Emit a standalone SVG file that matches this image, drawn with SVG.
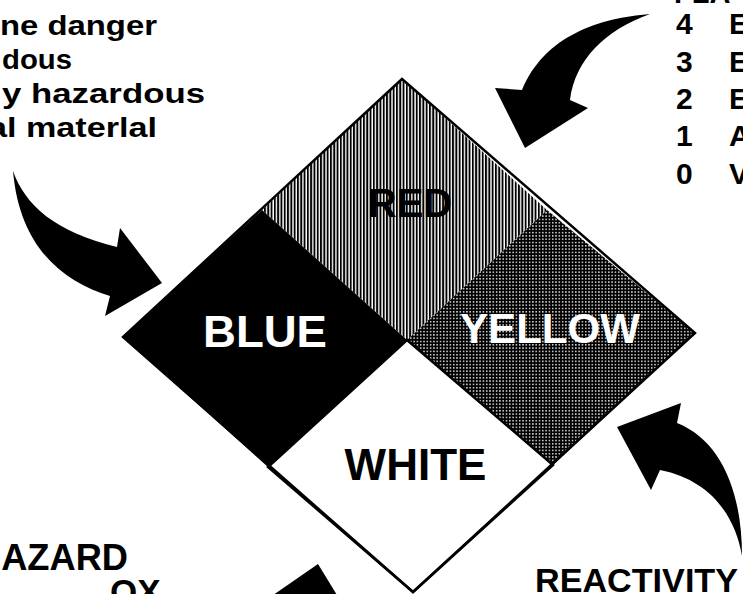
<svg xmlns="http://www.w3.org/2000/svg" width="743" height="594" viewBox="0 0 743 594">
<defs>
<style>
.t{font-family:"Liberation Sans",Arial,sans-serif;font-weight:bold;fill:#000}
.lbl{font-family:"Liberation Sans",Arial,sans-serif;font-weight:bold}
.arrow{fill:#000;stroke:none}
.edge{fill:none;stroke:#000;stroke-width:2.5;stroke-linejoin:miter}
</style>
<pattern id="vstripes" width="3.3" height="4" patternUnits="userSpaceOnUse">
<rect width="3.3" height="4" fill="#fff"/>
<rect width="1.9" height="4" fill="#000"/>
</pattern>
<pattern id="dots" width="3.3" height="3.3" patternUnits="userSpaceOnUse">
<rect width="3.3" height="3.3" fill="#000"/>
<rect x="0.9" y="0.9" width="1.4" height="1.4" fill="#fff"/>
</pattern>
</defs>
<rect width="743" height="594" fill="#fff"/>

<g id="node-red">
<polygon points="402,79 547,210 407,340 262,210" fill="url(#vstripes)"/>
<text class="lbl" x="410" y="217" font-size="40" text-anchor="middle" fill="#000">RED</text>
</g>
<g id="node-yellow">
<polygon points="547,210 695,333 553,465 407,340" fill="url(#dots)"/>
<text class="lbl" x="460" y="343" font-size="42" textLength="180" lengthAdjust="spacingAndGlyphs" fill="#fff">YELLOW</text>
</g>
<g id="node-blue">
<polygon points="262,210 407,340 268,467 123,337" fill="#000"/>
<text class="lbl" x="203" y="347" font-size="44" textLength="124" lengthAdjust="spacingAndGlyphs" fill="#fff">BLUE</text>
</g>
<g id="node-white">
<polygon points="407,340 553,465 413,592 268,467" fill="#fff" stroke="#000" stroke-width="2.5"/>
<text class="lbl" x="415.5" y="480" font-size="44" text-anchor="middle" fill="#000">WHITE</text>
</g>
<polygon class="edge" points="402,79 695,333 413,592 123,337"/>

<g id="legend-left">
<text class="t" x="0" y="35" font-size="27" textLength="157" lengthAdjust="spacingAndGlyphs">ne danger</text>
<text class="t" x="2" y="69" font-size="27" textLength="70" lengthAdjust="spacingAndGlyphs">dous</text>
<text class="t" x="2" y="103" font-size="27" textLength="203" lengthAdjust="spacingAndGlyphs">y hazardous</text>
<text class="t" x="-12" y="137" font-size="27" textLength="169" lengthAdjust="spacingAndGlyphs">al materlal</text>
</g>

<g id="legend-right">
<text class="t" x="674" y="3" font-size="29">FLA</text>
<text class="t" x="676" y="34" font-size="30">4<tspan x="729">E</tspan></text>
<text class="t" x="676" y="71.5" font-size="30">3<tspan x="729">E</tspan></text>
<text class="t" x="676" y="109" font-size="30">2<tspan x="729">E</tspan></text>
<text class="t" x="676" y="146" font-size="30">1<tspan x="729">A</tspan></text>
<text class="t" x="676" y="183.5" font-size="30">0<tspan x="729">V</tspan></text>
</g>

<g id="label-hazard">
<text class="t" x="128" y="570" font-size="36" text-anchor="end" textLength="153" lengthAdjust="spacingAndGlyphs">HAZARD</text>
<text class="t" x="110" y="604" font-size="35">OX</text>
</g>

<g id="label-reactivity">
<text class="t" x="535" y="592" font-size="34" textLength="203" lengthAdjust="spacingAndGlyphs">REACTIVITY</text>
</g>

<g id="connectors">
<path class="arrow" d="M13,171 C25,205 55,232 117,247 L120,228 L162,283 L105,316 L110,296 C65,282 20,250 13,171 Z"/>
<path class="arrow" d="M650,14 C600,18 545,35 522,90 L495,88 L525,148 L588,108 L570,100 C575,60 605,30 650,14 Z"/>
<path class="arrow" d="M617,427 L681,403 L677,423 C720,440 742,490 742,556 C735,515 710,480 660,470 L651,490 Z"/>
<polygon class="arrow" points="266,600 318,564 340,600"/>
</g>
</svg>
